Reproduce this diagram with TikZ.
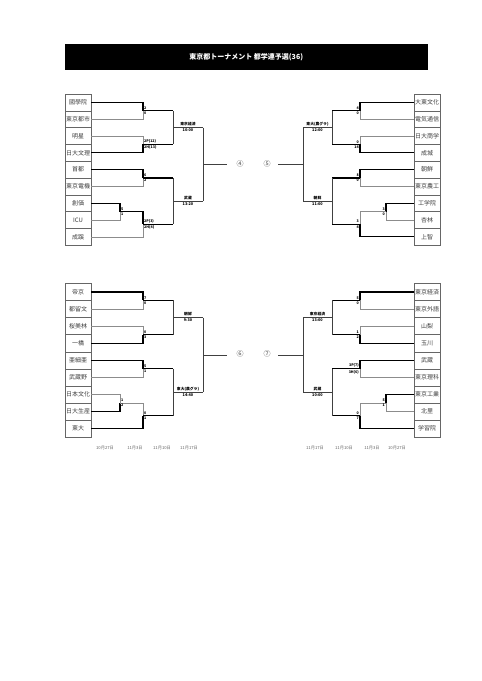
\documentclass[tikz,border=0pt]{standalone}
\usepackage{fontspec}
\setmainfont{Noto Sans CJK JP}
\begin{document}
\begin{tikzpicture}[x=1pt,y=-1pt,
  team/.style={draw=black!60,line width=0.4pt,minimum width=26pt,minimum height=16.8pt,inner sep=0pt,text=black!75,font=\fontsize{6}{6}\selectfont},
  teamb/.style={team,minimum height=17.1pt},
  win/.style={line width=1.3pt,black},
  lose/.style={line width=0.5pt,black!45},
  pend/.style={line width=0.5pt,black!75},
  sc/.style={font=\fontsize{3.6}{3.6}\selectfont\bfseries,inner sep=1pt},
  lbl/.style={font=\fontsize{3.8}{3.8}\selectfont\bfseries,inner sep=1.2pt},
  circ/.style={font=\fontsize{7}{7}\selectfont,text=black!70},
  date/.style={font=\fontsize{4.2}{4.2}\selectfont,text=black!60}
]
\useasboundingbox (0,0) rectangle (482,681);
\fill[white] (0,0) rectangle (482,681);
% title
\node[fill=black,minimum width=363pt,minimum height=25.5pt,inner sep=0pt,anchor=north west] (bar) at (64.5,44) {};
\node[text=white,font=\fontsize{7}{7}\selectfont\bfseries] (title) at (bar.center) {東京都トーナメント 都学連予選(36)};

% ================= top left =================
\node[team] (a1) at (78,102.4) {國學院};
\node[team] (a2) at (78,119.2) {東京都市};
\node[team] (a3) at (78,136.0) {明星};
\node[team] (a4) at (78,152.8) {日大文理};
\node[team] (a5) at (78,169.6) {首都};
\node[team] (a6) at (78,186.4) {東京電機};
\node[team] (a7) at (78,203.2) {創価};
\node[team] (a8) at (78,220.0) {ICU};
\node[team] (a9) at (78,236.8) {成蹊};
\coordinate (aj1) at (143,110.8);
\coordinate (aj2) at (143,144.4);
\coordinate (aj3) at (143,178);
\coordinate (ai) at (120,211.6);
\coordinate (aj4) at (143,224.2);
\draw[lose] (a2.east) -| (aj1);
\draw[win] (a1.east) -| (aj1);
\draw[lose] (a3.east) -| (aj2);
\draw[win] (a4.east) -| (aj2);
\draw[lose] (a6.east) -| (aj3);
\draw[win] (a5.east) -| (aj3);
\draw[lose] (a8.east) -| (ai);
\draw[win] (a7.east) -| (ai);
\draw[lose] (a9.east) -| (aj4);
\draw[win] (ai) -| (aj4);
\coordinate (ak1) at (173,110.8);
\coordinate (ak2) at (173,144.4);
\coordinate (ak3) at (173,178);
\coordinate (ak4) at (173,224.2);
\draw[win] (aj1) -- (ak1);
\draw[win] (aj2) -- (ak2);
\draw[win] (aj3) -- (ak3);
\draw[win] (aj4) -- (ak4);
\draw[pend] (ak1) -- (ak2);
\draw[pend] (ak3) -- (ak4);
\coordinate (al1) at (173,127.6);
\coordinate (am1) at (203,127.6);
\coordinate (al2) at (173,201.1);
\coordinate (am2) at (203,201.1);
\draw[pend] (al1) -- (am1);
\draw[pend] (al2) -- (am2);
\draw[pend] (am1) -- (am2);
\coordinate (an) at (203,164.35);
\coordinate (ae) at (227,164.35);
\draw[pend] (an) -- (ae);
\node[sc,anchor=south west] (as1) at (aj1) {2};
\node[sc,anchor=north west] (as2) at (aj1) {0};
\node[sc,anchor=south west] (as3) at (aj2) {2P(12)};
\node[sc,anchor=north west] (as4) at (aj2) {2H(13)};
\node[sc,anchor=south west] (as5) at (aj3) {6};
\node[sc,anchor=north west] (as6) at (aj3) {2};
\node[sc,anchor=south west] (as7) at (ai) {5};
\node[sc,anchor=north west] (as8) at (ai) {1};
\node[sc,anchor=south west] (as9) at (aj4) {2P(3)};
\node[sc,anchor=north west] (as10) at (aj4) {2H(4)};
\node[lbl,above] (at1) at (188,127.6) {東京経済};
\node[lbl,below] (at2) at (188,127.6) {10:00};
\node[lbl,above] (at3) at (188,201.1) {武蔵};
\node[lbl,below] (at4) at (188,201.1) {13:20};
\node[circ] (c4) at (240,163.5) {④};

% ================= top right =================
\node[team] (d1) at (427,102.4) {大東文化};
\node[team] (d2) at (427,119.2) {電気通信};
\node[team] (d3) at (427,136.0) {日大商学};
\node[team] (d4) at (427,152.8) {成城};
\node[team] (d5) at (427,169.6) {朝鮮};
\node[team] (d6) at (427,186.4) {東京農工};
\node[team] (d7) at (427,203.2) {工学院};
\node[team] (d8) at (427,220.0) {杏林};
\node[team] (d9) at (427,236.8) {上智};
\coordinate (dj1) at (360,110.8);
\coordinate (dj2) at (360,144.4);
\coordinate (dj3) at (360,178);
\coordinate (di) at (386,211.6);
\coordinate (dj4) at (360,224.2);
\draw[lose] (d2.west) -| (dj1);
\draw[win] (d1.west) -| (dj1);
\draw[lose] (d3.west) -| (dj2);
\draw[win] (d4.west) -| (dj2);
\draw[lose] (d6.west) -| (dj3);
\draw[win] (d5.west) -| (dj3);
\draw[lose] (d8.west) -| (di);
\draw[win] (d7.west) -| (di);
\draw[lose] (di) -| (dj4);
\draw[win] (d9.west) -| (dj4);
\coordinate (dk1) at (332,110.8);
\coordinate (dk2) at (332,144.4);
\coordinate (dk3) at (332,178);
\coordinate (dk4) at (332,224.2);
\draw[win] (dj1) -- (dk1);
\draw[win] (dj2) -- (dk2);
\draw[win] (dj3) -- (dk3);
\draw[win] (dj4) -- (dk4);
\draw[pend] (dk1) -- (dk2);
\draw[pend] (dk3) -- (dk4);
\coordinate (dl1) at (332,127.6);
\coordinate (dm1) at (303,127.6);
\coordinate (dl2) at (332,201.1);
\coordinate (dm2) at (303,201.1);
\draw[pend] (dl1) -- (dm1);
\draw[pend] (dl2) -- (dm2);
\draw[pend] (dm1) -- (dm2);
\coordinate (dn) at (303,164.35);
\coordinate (de) at (278,164.35);
\draw[pend] (dn) -- (de);
\node[sc,anchor=south east] (ds1) at (dj1) {4};
\node[sc,anchor=north east] (ds2) at (dj1) {0};
\node[sc,anchor=south east] (ds3) at (dj2) {0};
\node[sc,anchor=north east] (ds4) at (dj2) {14};
\node[sc,anchor=south east] (ds5) at (dj3) {8};
\node[sc,anchor=north east] (ds6) at (dj3) {0};
\node[sc,anchor=south east] (ds7) at (di) {3};
\node[sc,anchor=north east] (ds8) at (di) {0};
\node[sc,anchor=south east] (ds9) at (dj4) {3};
\node[sc,anchor=north east] (ds10) at (dj4) {4};
\node[lbl,above] (dt1) at (317.5,127.6) {東大(農グラ)};
\node[lbl,below] (dt2) at (317.5,127.6) {12:00};
\node[lbl,above] (dt3) at (317.5,201.1) {朝鮮};
\node[lbl,below] (dt4) at (317.5,201.1) {11:00};
\node[circ] (c5) at (267,163.5) {⑤};

% ================= bottom left =================
\node[teamb] (f1) at (78,291.85) {帝京};
\node[teamb] (f2) at (78,308.95) {都留文};
\node[teamb] (f3) at (78,326.05) {桜美林};
\node[teamb] (f4) at (78,343.15) {一橋};
\node[teamb] (f5) at (78,360.25) {亜細亜};
\node[teamb] (f6) at (78,377.35) {武蔵野};
\node[teamb] (f7) at (78,394.45) {日本文化};
\node[teamb] (f8) at (78,411.55) {日大生産};
\node[teamb] (f9) at (78,428.65) {東大};
\coordinate (fj1) at (143,300.4);
\coordinate (fj2) at (143,334.6);
\coordinate (fj3) at (143,368.8);
\coordinate (fi) at (120,403);
\coordinate (fj4) at (143,415.8);
\draw[lose] (f2.east) -| (fj1);
\draw[win] (f1.east) -| (fj1);
\draw[lose] (f3.east) -| (fj2);
\draw[win] (f4.east) -| (fj2);
\draw[lose] (f6.east) -| (fj3);
\draw[win] (f5.east) -| (fj3);
\draw[lose] (f7.east) -| (fi);
\draw[win] (f8.east) -| (fi);
\draw[lose] (fi) -| (fj4);
\draw[win] (f9.east) -| (fj4);
\coordinate (fk1) at (173,300.4);
\coordinate (fk2) at (173,334.6);
\coordinate (fk3) at (173,368.8);
\coordinate (fk4) at (173,415.8);
\draw[win] (fj1) -- (fk1);
\draw[win] (fj2) -- (fk2);
\draw[win] (fj3) -- (fk3);
\draw[win] (fj4) -- (fk4);
\draw[pend] (fk1) -- (fk2);
\draw[pend] (fk3) -- (fk4);
\coordinate (fl1) at (173,317.5);
\coordinate (fm1) at (203,317.5);
\coordinate (fl2) at (173,392.3);
\coordinate (fm2) at (203,392.3);
\draw[pend] (fl1) -- (fm1);
\draw[pend] (fl2) -- (fm2);
\draw[pend] (fm1) -- (fm2);
\coordinate (fn) at (203,354.9);
\coordinate (fe) at (227,354.9);
\draw[pend] (fn) -- (fe);
\node[sc,anchor=south west] (fs1) at (fj1) {7};
\node[sc,anchor=north west] (fs2) at (fj1) {0};
\node[sc,anchor=south west] (fs3) at (fj2) {0};
\node[sc,anchor=north west] (fs4) at (fj2) {3};
\node[sc,anchor=south west] (fs5) at (fj3) {5};
\node[sc,anchor=north west] (fs6) at (fj3) {1};
\node[sc,anchor=south west] (fs7) at (fi) {1};
\node[sc,anchor=north west] (fs8) at (fi) {2};
\node[sc,anchor=south west] (fs9) at (fj4) {0};
\node[sc,anchor=north west] (fs10) at (fj4) {1};
\node[lbl,above] (ft1) at (188,317.5) {朝鮮};
\node[lbl,below] (ft2) at (188,317.5) {9:30};
\node[lbl,above] (ft3) at (188,392.3) {東大(農グラ)};
\node[lbl,below] (ft4) at (188,392.3) {14:40};
\node[circ] (c6) at (240,354) {⑥};

% ================= bottom right =================
\node[teamb] (g1) at (427,291.85) {東京経済};
\node[teamb] (g2) at (427,308.95) {東京外語};
\node[teamb] (g3) at (427,326.05) {山梨};
\node[teamb] (g4) at (427,343.15) {玉川};
\node[teamb] (g5) at (427,360.25) {武蔵};
\node[teamb] (g6) at (427,377.35) {東京理科};
\node[teamb] (g7) at (427,394.45) {東京工業};
\node[teamb] (g8) at (427,411.55) {北里};
\node[teamb] (g9) at (427,428.65) {学習院};
\coordinate (gj1) at (360,300.4);
\coordinate (gj2) at (360,334.6);
\coordinate (gj3) at (360,368.8);
\coordinate (gi) at (386,403);
\coordinate (gj4) at (360,415.8);
\draw[lose] (g2.west) -| (gj1);
\draw[win] (g1.west) -| (gj1);
\draw[lose] (g3.west) -| (gj2);
\draw[win] (g4.west) -| (gj2);
\draw[lose] (g6.west) -| (gj3);
\draw[win] (g5.west) -| (gj3);
\draw[lose] (g8.west) -| (gi);
\draw[win] (g7.west) -| (gi);
\draw[lose] (gi) -| (gj4);
\draw[win] (g9.west) -| (gj4);
\coordinate (gk1) at (332,300.4);
\coordinate (gk2) at (332,334.6);
\coordinate (gk3) at (332,368.8);
\coordinate (gk4) at (332,415.8);
\draw[win] (gj1) -- (gk1);
\draw[win] (gj2) -- (gk2);
\draw[win] (gj3) -- (gk3);
\draw[win] (gj4) -- (gk4);
\draw[pend] (gk1) -- (gk2);
\draw[pend] (gk3) -- (gk4);
\coordinate (gl1) at (332,317.5);
\coordinate (gm1) at (303,317.5);
\coordinate (gl2) at (332,392.3);
\coordinate (gm2) at (303,392.3);
\draw[pend] (gl1) -- (gm1);
\draw[pend] (gl2) -- (gm2);
\draw[pend] (gm1) -- (gm2);
\coordinate (gn) at (303,354.9);
\coordinate (ge) at (278,354.9);
\draw[pend] (gn) -- (ge);
\node[sc,anchor=south east] (gs1) at (gj1) {5};
\node[sc,anchor=north east] (gs2) at (gj1) {0};
\node[sc,anchor=south east] (gs3) at (gj2) {1};
\node[sc,anchor=north east] (gs4) at (gj2) {2};
\node[sc,anchor=south east] (gs5) at (gj3) {3P(7)};
\node[sc,anchor=north east] (gs6) at (gj3) {3H(6)};
\node[sc,anchor=south east] (gs7) at (gi) {5};
\node[sc,anchor=north east] (gs8) at (gi) {1};
\node[sc,anchor=south east] (gs9) at (gj4) {0};
\node[sc,anchor=north east] (gs10) at (gj4) {7};
\node[lbl,above] (gt1) at (317.5,317.5) {東京経済};
\node[lbl,below] (gt2) at (317.5,317.5) {13:00};
\node[lbl,above] (gt3) at (317.5,392.3) {武蔵};
\node[lbl,below] (gt4) at (317.5,392.3) {10:00};
\node[circ] (c7) at (267,354) {⑦};

% dates
\node[date] (dl1) at (105,448) {10月27日};
\node[date] (dl2) at (135,448) {11月3日};
\node[date] (dl3) at (162,448) {11月10日};
\node[date] (dl4) at (189,448) {11月17日};
\node[date] (dr1) at (315,448) {11月17日};
\node[date] (dr2) at (344,448) {11月10日};
\node[date] (dr3) at (372,448) {11月3日};
\node[date] (dr4) at (397,448) {10月27日};
\end{tikzpicture}
\end{document}
